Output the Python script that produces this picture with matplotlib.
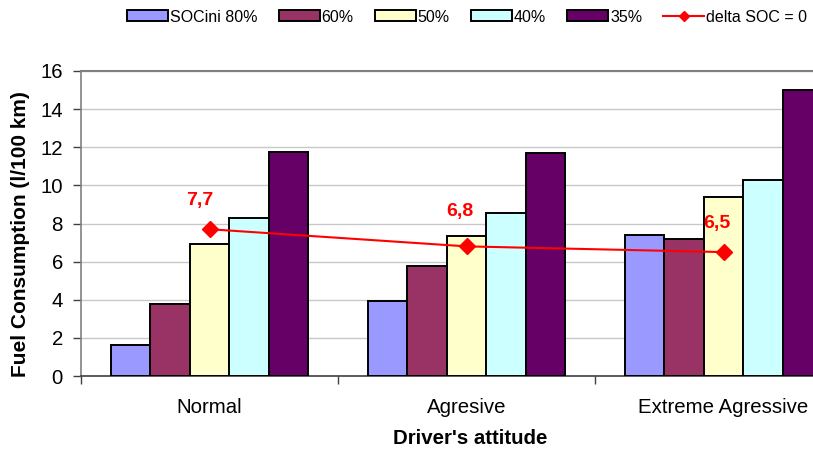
import matplotlib
matplotlib.use("Agg")
import matplotlib.pyplot as plt
from matplotlib import font_manager
import numpy as np
from matplotlib.patches import Patch
from matplotlib.lines import Line2D

plt.rcParams['font.family'] = ['Liberation Sans', 'DejaVu Sans']

categories = ["Normal", "Agresive", "Extreme Agressive"]
series_names = ["SOCini 80%", "60%", "50%", "40%", "35%"]
soc80 = [1.65, 3.95, 7.38]
soc60 = [3.8, 5.77, 7.2]
soc50 = [6.93, 7.32, 9.4]
soc40 = [8.27, 8.55, 10.3]
soc35 = [11.73, 11.68, 15.0]
delta_soc0 = [7.7, 6.8, 6.5]
delta_labels = ["7,7", "6,8", "6,5"]
line_name = "delta SOC = 0"

series = [soc80, soc60, soc50, soc40, soc35]
colors = ["#9999FF", "#993366", "#FFFFCC", "#CCFFFF", "#660066"]
# data-label offsets (points) relative to each marker
label_offsets = [(-7.2, 20.6), (-5.0, 25.2), (-5.0, 20.6)]

# narrow face for the legend when available
installed = {f.name for f in font_manager.fontManager.ttflist}
if "Liberation Sans Narrow" in installed:
    legend_font = {"family": ["Liberation Sans Narrow", "DejaVu Sans"], "size": 12.4}
else:
    legend_font = {"family": ["Liberation Sans", "DejaVu Sans"], "size": 11.5}
fs = legend_font["size"] * 100 / 72  # legend font size in pixels

fig = plt.figure(figsize=(8.13, 4.5), dpi=100)
ax = fig.add_axes([81 / 813, 74 / 450, (852 - 81) / 813, (376 - 71) / 450])

n = len(series)
bw = 1.0 / (n + 1.5)
x = np.arange(len(categories))
for i, (vals, c) in enumerate(zip(series, colors)):
    offs = (i - (n - 1) / 2) * bw
    ax.bar(x + offs, vals, width=bw, color=c, edgecolor="black",
           linewidth=1.4, zorder=3)

ax.plot(x, delta_soc0, color="#FF0000", linewidth=1.5, marker="D",
        markersize=8, zorder=4)
for xi, v, lab, off in zip(x, delta_soc0, delta_labels, label_offsets):
    ax.annotate(lab, (xi, v), xytext=off, textcoords="offset points",
                ha="center", va="center", color="#FF0000",
                fontsize=14, fontweight="bold", zorder=5)

ax.set_xlim(-0.5, len(categories) - 0.5)
ax.set_ylim(0, 16)
ax.set_yticks(np.arange(0, 17, 2))
ax.yaxis.grid(True, color="#C8C8C8", linewidth=1.0, zorder=0)
ax.set_axisbelow(True)

ax.set_xticks(x)
ax.set_xticklabels(categories, fontsize=14.7)
ax.set_xticks(np.arange(-0.5, len(categories) + 0.5, 1), minor=True)
ax.tick_params(axis="x", which="major", length=0, pad=16)
ax.tick_params(axis="x", which="minor", length=6, width=1, color="#404040")
ax.tick_params(axis="y", labelsize=14.7, length=6, width=1, color="#404040", pad=7)

for side in ["top", "right"]:
    ax.spines[side].set_color("#808080")
    ax.spines[side].set_linewidth(1.5)
ax.spines["left"].set_color("#808080")
ax.spines["left"].set_linewidth(1.2)
ax.spines["bottom"].set_color("#404040")
ax.spines["bottom"].set_linewidth(1.2)

ax.set_ylabel("Fuel Consumption (l/100 km)", fontsize=15, fontweight="bold")
ax.yaxis.set_label_coords(21 / 813, (450 - 234) / 450, transform=fig.transFigure)
ax.set_xlabel("Driver's attitude", fontsize=14.7, fontweight="bold")
ax.xaxis.set_label_coords(470 / 813, (450 - 439) / 450, transform=fig.transFigure)
ax.xaxis.label.set_va("center")
ax.yaxis.label.set_va("center")

handles = [Patch(facecolor=c, edgecolor="black", linewidth=1.4) for c in colors]
handles.append(Line2D([], [], color="#FF0000", linewidth=1.5, marker="D",
                      markersize=5))
labels = series_names + [line_name]
fig.legend(handles, labels, loc="center left",
           bbox_to_anchor=(127 / 813, (450 - 17) / 450),
           ncol=6, frameon=False, prop=legend_font,
           handlelength=41 / fs, handleheight=11 / fs,
           handletextpad=2 / fs, columnspacing=21 / fs,
           borderaxespad=0, borderpad=0)

fig.savefig("out.png", dpi=100)
